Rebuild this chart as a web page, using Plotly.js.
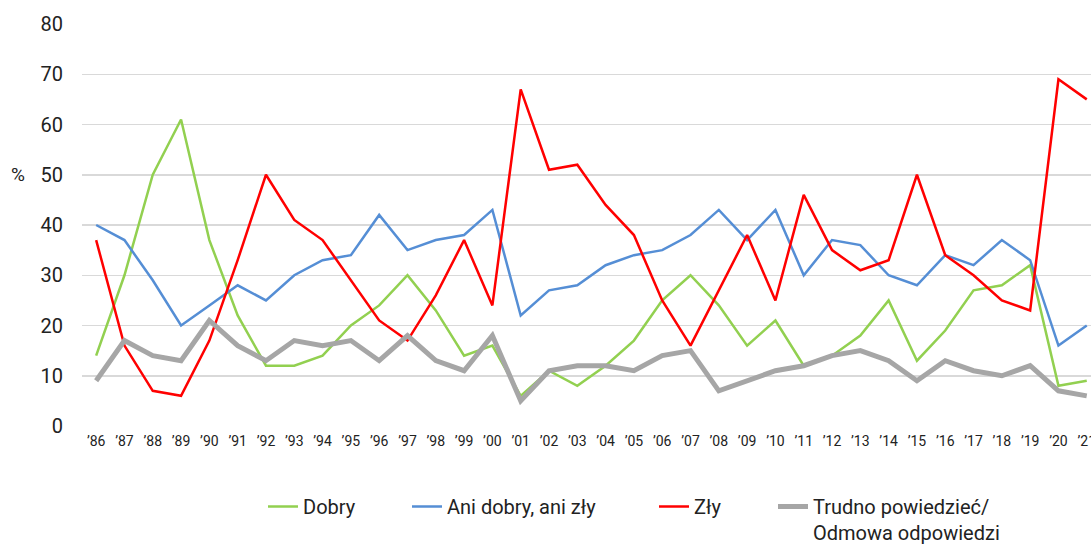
<!DOCTYPE html>
<html>
<head>
<meta charset="utf-8">
<script src="https://cdn.plot.ly/plotly-3.0.1.min.js"></script>
<style>html,body{margin:0;padding:0;background:#fff;}#chart{width:1091px;height:545px;}</style>
</head>
<body>
<div id="chart"></div>
<script>
const years = ['86','87','88','89','90','91','92','93','94','95','96','97','98','99','00','01','02','03','04','05','06','07','08','09','10','11','12','13','14','15','16','17','18','19','20','21'];
const tickLabels = years.map(y => '\u2019' + y);
const dobry = [14,30,50,61,37,22,12,12,14,20,24,30,23,14,16,6,11,8,12,17,25,30,24,16,21,12,14,18,25,13,19,27,28,32,8,9];
const aniDobryAniZly = [40,37,29,20,24,28,25,30,33,34,42,35,37,38,43,22,27,28,32,34,35,38,43,37,43,30,37,36,30,28,34,32,37,33,16,20];
const zly = [37,16,7,6,17,33,50,41,37,29,21,17,26,37,24,67,51,52,44,38,25,16,27,38,25,46,35,31,33,50,34,30,25,23,69,65];
const trudno = [9,17,14,13,21,16,13,17,16,17,13,18,13,11,18,5,11,12,12,11,14,15,7,9,11,12,14,15,13,9,13,11,10,12,7,6];
const seriesNames = ['Dobry','Ani dobry, ani zły','Zły','Trudno powiedzieć/<br>Odmowa odpowiedzi'];

const font = 'Roboto, "Open Sans", sans-serif';
const mk = (y, name, color, width, lg) => ({
  x: tickLabels, y: y, name: name, type: 'scatter', mode: 'lines',
  line: {color: color, width: width}, legend: lg
});
const data = [
  mk(dobry, seriesNames[0], '#92D050', 2.5, 'legend'),
  mk(aniDobryAniZly, seriesNames[1], '#558ED5', 2.5, 'legend2'),
  mk(zly, seriesNames[2], '#FF0000', 2.5, 'legend3'),
  mk(trudno, seriesNames[3], '#A6A6A6', 5, 'legend4')
];
const PW = 1009, PL = 82;
const textStarts = [302, 446, 693, 812];
const legOffset = 39;
const mkLeg = (i) => ({
  orientation: 'h', xref: 'paper', x: (textStarts[i] - legOffset - PL) / PW, xanchor: 'left',
  yref: 'container', y: (545 - 487) / 545, yanchor: 'top',
  valign: 'top', font: {size: 20, color: '#222'}, bgcolor: 'rgba(0,0,0,0)'
});
const layout = {
  width: 1091, height: 545,
  margin: {l: 82, r: 0, t: 24, b: 119},
  paper_bgcolor: '#fff', plot_bgcolor: '#fff',
  font: {family: font, color: '#222', size: 14},
  showlegend: true,
  xaxis: {
    type: 'category', range: [-0.5, 35.15],
    showgrid: false, zeroline: false, showline: false, ticks: '',
    ticklabelstandoff: 5,
    tickfont: {size: 14, color: '#222'}, fixedrange: true
  },
  yaxis: {
    range: [0, 80], dtick: 10, tick0: 0,
    showgrid: true, gridcolor: '#D9D9D9', gridwidth: 1.5,
    zeroline: false, showline: false, ticks: '',
    ticklabelstandoff: 18,
    tickfont: {size: 20, color: '#222'}, fixedrange: true
  },
  annotations: [{
    text: '%', xref: 'paper', yref: 'y', x: (18 - 82) / 1009, y: 50,
    xanchor: 'center', yanchor: 'middle', showarrow: false,
    font: {size: 19, color: '#222'}
  }],
  legend: mkLeg(0), legend2: mkLeg(1), legend3: mkLeg(2), legend4: mkLeg(3)
};
Plotly.newPlot('chart', data, layout, {displayModeBar: false, staticPlot: true});
</script>
</body>
</html>
